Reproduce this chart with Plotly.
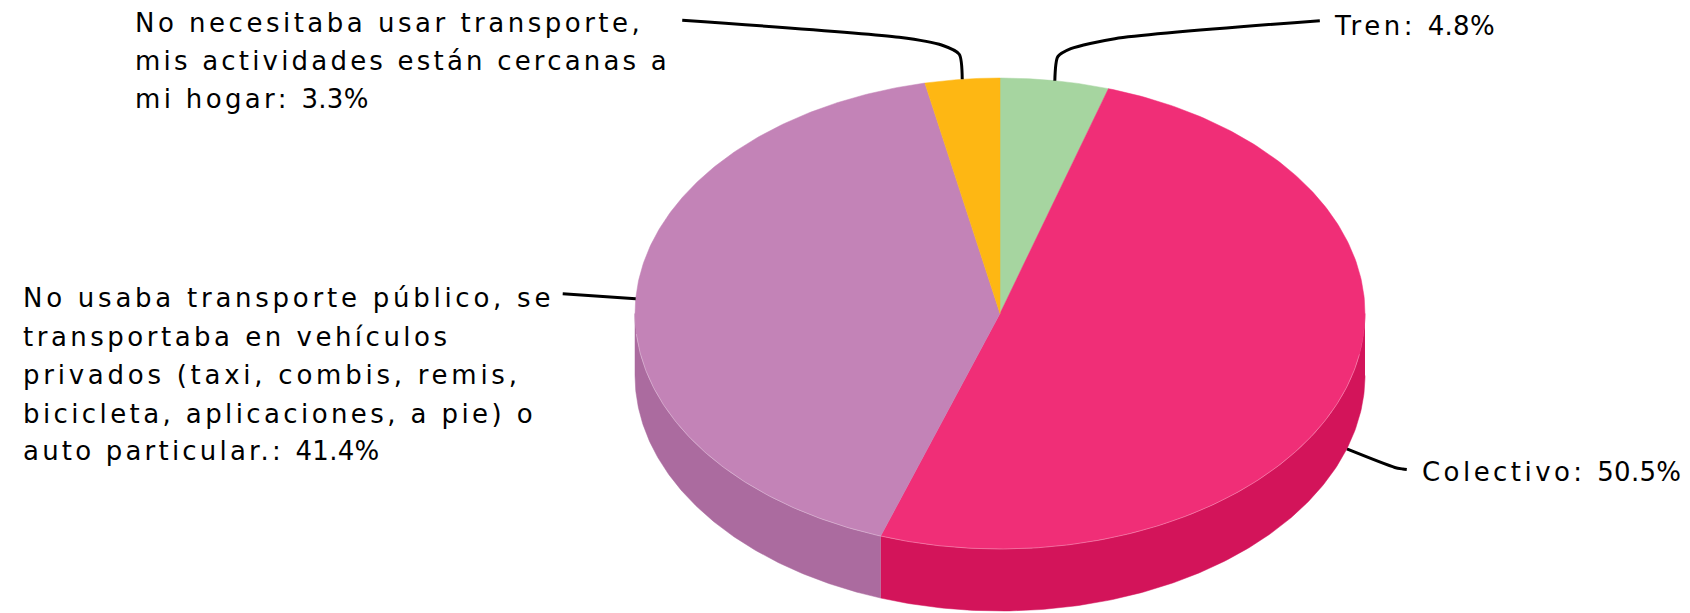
import numpy as np
import plotly.graph_objects as go

# ---- data ----
categories = ["Tren", "Colectivo",
              "No usaba transporte público, se transportaba en vehículos privados (taxi, combis, remis, bicicleta, aplicaciones, a pie) o auto particular.",
              "No necesitaba usar transporte, mis actividades están cercanas a mi hogar"]
values = [4.8, 50.5, 41.4, 3.3]
top_colors = ["#A6D5A0", "#F02E77", "#C383B7", "#FEB713"]
side_colors = ["#8EBD88", "#D3145A", "#AB6B9F", "#E69F00"]
label_lines = [
    ["Tren:"],
    ["Colectivo:"],
    ["No usaba transporte público, se", "transportaba en vehículos",
     "privados (taxi, combis, remis,", "bicicleta, aplicaciones, a pie) o",
     "auto particular.:"],
    ["No necesitaba usar transporte,", "mis actividades están cercanas a", "mi hogar:"],
]

# ---- layout of the drawing ----
W, H = 1690, 613
CX, CY, RX, RY, DEPTH = 1000.0, 313.5, 365.0, 235.5, 62.0
FONT = "DejaVu Sans"
FONT_SIZE = 26
VALUE_SPACING = 0.3
line_spacing = [[3.5], [3.45], [3.75, 3.5, 3.75, 3.4, 3.2], [3.5, 3.2, 3.35]]
label_x = [1334, 1421.5, 23, 134.7]
label_base = [[35.3], [481], [307, 346.3, 384.7, 423, 460.7], [32.3, 70.7, 108.3]]
# connector way-points, as offsets from the slice's anchor on the rim
conn_offsets = [
    [(0, 0), (3, -24), (16, -32), (60, -42), (265, -60)],
    [(0, 0), (48, 18.5), (56, 20), (60, 20.5)],
    [(0, 0), (-73, -5)],
    [(0, 0), (-3, -25), (-20, -34), (-63, -42), (-280, -59)],
]


def rim(t_deg, depth=0.0):
    t = np.radians(np.asarray(t_deg, dtype=float))
    return CX + RX * np.sin(t), CY - RY * np.cos(t) + depth


fig = go.Figure()
total = sum(values)
edges = np.cumsum([0] + values) / total * 360.0
mids = (edges[:-1] + edges[1:]) / 2


def add_connector(i):
    depth = DEPTH if i == 1 else 0.0  # this anchor sits behind the front wall
    ax, ay = rim(mids[i], depth)
    xs = [ax + dx for dx, dy in conn_offsets[i]]
    ys = [ay + dy for dx, dy in conn_offsets[i]]
    fig.add_trace(go.Scatter(x=xs, y=ys, mode="lines",
                             line=dict(color="#000000", width=3, shape="spline", smoothing=0.7),
                             hoverinfo="skip", showlegend=False))


add_connector(1)

# visible walls
for i in range(len(values)):
    a, b = max(edges[i], 90.0), min(edges[i + 1], 270.0)
    if b <= a:
        continue
    ts = np.linspace(a, b, 160)
    x1, y1 = rim(ts)
    x2, y2 = rim(ts[::-1], DEPTH)
    fig.add_trace(go.Scatter(x=np.r_[x1, x2], y=np.r_[y1, y2], mode="lines", fill="toself",
                             fillcolor=side_colors[i], line=dict(color=side_colors[i], width=0.5),
                             hoverinfo="skip", showlegend=False))

# top faces
for i in range(len(values)):
    ts = np.linspace(edges[i], edges[i + 1], 240)
    x1, y1 = rim(ts)
    fig.add_trace(go.Scatter(x=np.r_[CX, x1, CX], y=np.r_[CY, y1, CY], mode="lines", fill="toself",
                             fillcolor=top_colors[i], line=dict(color=top_colors[i], width=0.5),
                             hoverinfo="skip", showlegend=False, name=categories[i]))

# light highlight on the front rim
ts = np.linspace(100, 265, 300)
x1, y1 = rim(ts)
fig.add_trace(go.Scatter(x=x1, y=y1, mode="lines", line=dict(color="rgba(255,255,255,0.28)", width=1),
                         hoverinfo="skip", showlegend=False))

for i in (0, 2, 3):
    add_connector(i)

annotations = []
for i, lines in enumerate(label_lines):
    for j, (line, base) in enumerate(zip(lines, label_base[i])):
        text = f'<span style="letter-spacing:{line_spacing[i][j]}px">{line} </span>'
        if j == len(lines) - 1:
            text += f'<span style="letter-spacing:{VALUE_SPACING}px">{values[i]}%</span>'
        annotations.append(dict(
            x=label_x[i], y=base - FONT_SIZE * 0.36, xref="x", yref="y",
            text=text, showarrow=False, xanchor="left", yanchor="middle", align="left",
            font=dict(family=FONT, size=FONT_SIZE, color="#000000"),
            borderpad=0, borderwidth=0,
        ))

fig.update_layout(
    width=W, height=H, margin=dict(l=0, r=0, t=0, b=0),
    paper_bgcolor="#FFFFFF", plot_bgcolor="#FFFFFF", showlegend=False,
    xaxis=dict(range=[0, W], visible=False, fixedrange=True),
    yaxis=dict(range=[H, 0], visible=False, fixedrange=True),
    annotations=annotations,
)
fig.write_html("out.html", config={"displayModeBar": False},
               post_script="document.body.style.margin='0';document.body.style.overflow='hidden';")
